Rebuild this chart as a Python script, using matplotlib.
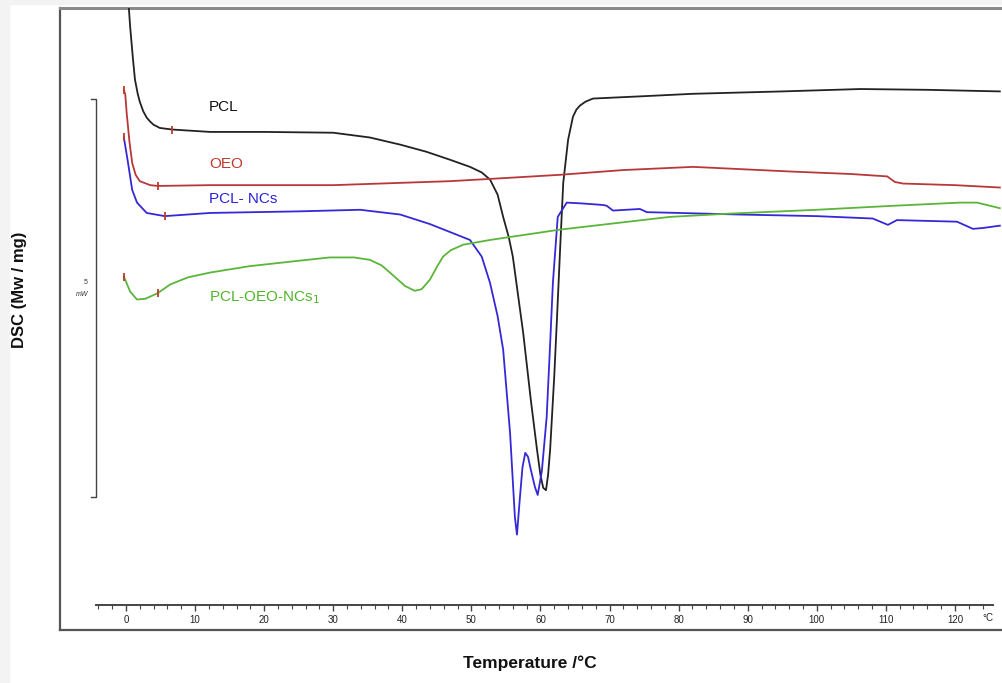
import numpy as np
import matplotlib
matplotlib.use('Agg')
import matplotlib.pyplot as plt
from matplotlib.patches import Rectangle

plt.rcParams['font.family'] = ['Liberation Sans', 'DejaVu Sans']

# temperature (°C) and heat flow (mW)
pcl_t = [0.2, 0.6, 1.0, 1.3, 1.7, 2.0, 2.5, 3.0, 3.5, 4.0, 4.9, 6.7, 12.2, 20.0, 30.0,
         35.3, 39.7, 43.5, 46.9, 49.8, 51.5, 52.7, 53.8, 54.6, 55.4, 56.0, 57.5, 58.6,
         59.5, 60.0, 60.4, 60.8, 61.1, 61.4, 62.0, 62.4, 62.9, 63.3, 64.0, 64.7, 65.2,
         65.7, 66.5, 67.6, 75.0, 82.1, 95.0, 106.3, 116.0, 126.5]
pcl_y = [8.10, 7.60, 7.20, 6.93, 6.75, 6.65, 6.53, 6.45, 6.40, 6.36, 6.32, 6.30, 6.27,
         6.27, 6.26, 6.20, 6.11, 6.02, 5.92, 5.83, 5.76, 5.67, 5.48, 5.20, 4.95, 4.70,
         3.74, 2.90, 2.27, 1.95, 1.79, 1.76, 1.95, 2.27, 3.20, 3.94, 4.90, 5.63, 6.17,
         6.46, 6.55, 6.60, 6.65, 6.69, 6.72, 6.75, 6.78, 6.81, 6.80, 6.78]

oeo_t = [-0.3, -0.1, 0.1, 0.5, 0.9, 1.4, 2.0, 3.5, 4.6, 12.2, 30.0, 46.9, 55.0,
         62.8, 72.0, 82.1, 96.6, 105.0, 110.2, 111.3, 112.5, 120.0, 126.5]
oeo_y = [6.80, 6.74, 6.51, 6.15, 5.88, 5.73, 5.65, 5.60, 5.59, 5.60, 5.60, 5.65, 5.69,
         5.73, 5.79, 5.83, 5.77, 5.74, 5.71, 5.64, 5.62, 5.60, 5.57]

ncs_t = [-0.3, 0.3, 0.9, 1.6, 3.0, 5.6, 12.2, 25.0, 33.9, 39.7, 44.0, 46.9, 49.8, 51.5,
         52.7, 53.8, 54.6, 55.6, 56.3, 56.6, 57.0, 57.4, 57.8, 58.2, 58.6, 59.2, 59.6,
         60.2, 60.9, 61.4, 61.8, 62.5, 63.8, 66.0, 69.1, 69.6, 70.5, 74.4, 75.4, 80.0,
         88.9, 100.0, 108.1, 110.3, 111.6, 120.3, 122.6, 124.0, 126.5]
ncs_y = [6.20, 5.88, 5.54, 5.38, 5.25, 5.21, 5.25, 5.27, 5.29, 5.23, 5.11, 5.01, 4.91, 4.70,
         4.37, 3.95, 3.53, 2.48, 1.42, 1.20, 1.64, 2.05, 2.23, 2.18, 2.02, 1.80, 1.70,
         2.00, 2.68, 3.60, 4.37, 5.20, 5.38, 5.37, 5.35, 5.34, 5.28, 5.30, 5.26, 5.25,
         5.23, 5.21, 5.18, 5.10, 5.16, 5.14, 5.05, 5.06, 5.09]

oeo_ncs_t = [-0.3, 0.6, 1.6, 2.8, 4.6, 6.4, 9.0, 12.2, 17.9, 25.2, 29.5, 33.0, 35.3, 37.0,
             38.2, 39.5, 40.4, 41.8, 42.8, 44.0, 45.0, 45.9, 47.0, 48.8, 52.7, 62.8,
             78.7, 87.0, 100.0, 111.0, 120.7, 123.2, 126.5]
oeo_ncs_y = [4.45, 4.26, 4.16, 4.17, 4.24, 4.35, 4.44, 4.50, 4.58, 4.65, 4.69, 4.69, 4.66,
             4.59, 4.50, 4.40, 4.33, 4.27, 4.29, 4.41, 4.57, 4.70, 4.78, 4.85, 4.91, 5.04,
             5.20, 5.24, 5.29, 5.34, 5.38, 5.38, 5.31]

# little red marks on the traces
pcl_marks = [6.7]
oeo_marks = [-0.3, 4.6]
ncs_marks = [-0.3, 5.6]
oeo_ncs_marks = [-0.3, 4.6]

labels = ['PCL', 'OEO', 'PCL- NCs', 'PCL-OEO-NCs$_1$']
label_y = [6.59, 5.86, 5.42, 4.18]
line_colors = ['#222222', '#b8383a', '#3528d6', '#5bb53a']
text_colors = ['#111111', '#c0392b', '#2b22d8', '#4fb52a']

ruler_major = [0, 10, 20, 30, 40, 50, 60, 70, 80, 90, 100, 110, 120]
ruler_minor = list(range(-4, 126, 2))

fig = plt.figure(figsize=(10.02, 6.83), dpi=100)
fig.patches.append(Rectangle((0, 0), 9 / 1002, 1, transform=fig.transFigure,
                             color='#f3f3f3', zorder=0))
fig.patches.append(Rectangle((0, 1 - 4 / 683), 1, 4 / 683, transform=fig.transFigure,
                             color='#f3f3f3', zorder=0))

ax = fig.add_axes([60 / 1002, 1 - 630 / 683, 950 / 1002, 622 / 683])
ax.set_xlim(-9.55, 127.97)
ax.set_ylim(0, 7.83)
ax.set_xticks([])
ax.set_yticks([])
for side in ['left', 'bottom']:
    ax.spines[side].set_color('#555555')
    ax.spines[side].set_linewidth(1.6)
ax.spines['top'].set_color('#8a8a8a')
ax.spines['top'].set_linewidth(2.2)
ax.spines['right'].set_visible(False)

series = [(pcl_t, pcl_y, pcl_marks), (oeo_t, oeo_y, oeo_marks),
          (ncs_t, ncs_y, ncs_marks), (oeo_ncs_t, oeo_ncs_y, oeo_ncs_marks)]
for (t, y, marks), c in zip(series, line_colors):
    ax.plot(t, y, color=c, lw=1.3, solid_joinstyle='round', zorder=3)
    ax.plot(marks, np.interp(marks, t, y), ls='none', marker='|', ms=6, mew=1.3,
            color='#c0392b', zorder=4)

for lab, yy, c in zip(labels, label_y, text_colors):
    ax.text(12.0, yy, lab, color=c, fontsize=11, va='center', ha='left')

# 5 mW scale bar
ax.plot([-5.0, -4.4, -4.4, -5.0], [6.68, 6.68, 1.68, 1.68], color='#444444', lw=1.0)
ax.text(-5.5, 4.37, '5', fontsize=5, ha='right', va='center', color='#333333')
ax.text(-5.4, 4.22, 'mW', fontsize=5, ha='right', va='center', color='#333333',
        style='italic')

# temperature ruler inside the frame
rul = ax.inset_axes([0, 25 / 622, 1, 0.0001])
rul.set_xlim(-9.55, 127.97)
rul.patch.set_visible(False)
for side in ['left', 'right', 'top']:
    rul.spines[side].set_visible(False)
rul.spines['bottom'].set_bounds(-4.4, 125.5)
rul.spines['bottom'].set_color('#444444')
rul.spines['bottom'].set_linewidth(1.4)
rul.set_yticks([])
rul.set_xticks(ruler_major)
rul.set_xticks(ruler_minor, minor=True)
rul.tick_params(axis='x', which='major', length=4, width=1.0, color='#444444',
                labelsize=7, pad=3, labelcolor='#222222')
rul.tick_params(axis='x', which='minor', length=3, width=0.8, color='#444444')
ax.text(124.8, 0.15, '°C', fontsize=7, ha='center', va='center', color='#222222')

fig.text(20 / 1002, 1 - 290 / 683, 'DSC (Mw / mg)', rotation=90, fontsize=12,
         fontweight='bold', ha='center', va='center', color='#111111')
fig.text(530 / 1002, 1 - 663 / 683, 'Temperature /°C', fontsize=12.5,
         fontweight='bold', ha='center', va='center', color='#111111')

fig.savefig('out.png', dpi=100)
